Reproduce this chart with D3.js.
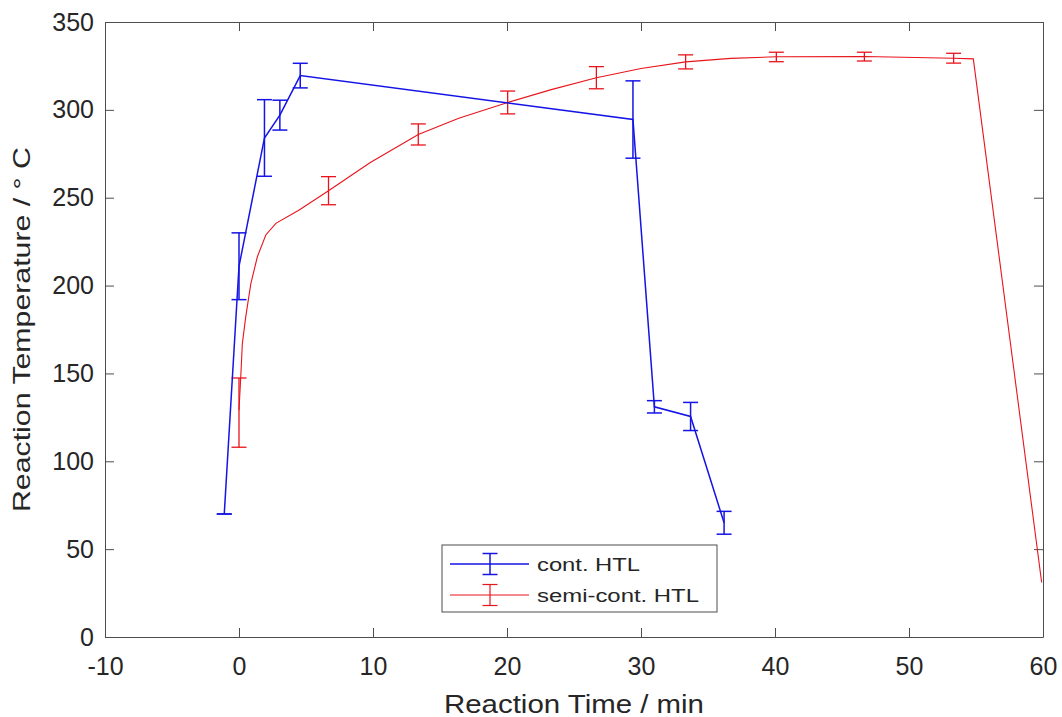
<!DOCTYPE html>
<html>
<head>
<meta charset="utf-8">
<script src="https://cdn.jsdelivr.net/npm/d3@7"></script>
<style>
  body { margin: 0; background: #fff; }
  svg text { font-family: "Liberation Sans", Arial, Helvetica, sans-serif; fill: #262626; }
</style>
</head>
<body>
<div id="chart"></div>
<script>
// cont. HTL (blue)
const contTime = [-1.1, 0, 1.9, 3.05, 4.57, 29.4, 31.0, 33.7, 36.2];
const contTemp = [70, 211, 284, 297, 319.5, 294.5, 131, 125.5, 65];
const contErr  = [0, 19, 21.8, 8.5, 7, 22, 3.5, 8, 6.5];

// semi-cont. HTL (red) curve
const semiTime = [0, 0.13, 0.25, 0.5, 0.88, 1.37, 2.0, 2.75, 4.49, 6.68, 9.8, 13.38, 16.4, 20.05,
                  23.3, 26.67, 30, 33.33, 36.7, 40.1, 46.67, 53.33, 54.8, 59.9];
const semiTemp = [129, 148, 167, 182, 201, 216.4, 228.8, 235.4, 243, 254, 270, 286, 295.2, 304.2,
                  311.5, 318.3, 323.5, 327.3, 329.3, 330.2, 330.4, 329.4, 329, 31];
// semi-cont. HTL error bars
const semiBarTime = [0, 6.68, 13.38, 20.05, 26.67, 33.33, 40.1, 46.67, 53.33];
const semiBarTemp = [127.7, 254, 286, 304.2, 318.3, 327.3, 330.1, 330.3, 329.4];
const semiBarErr  = [19.7, 8, 6, 6.5, 6.3, 4, 2.7, 2.5, 2.8];

const xTicks = [-10, 0, 10, 20, 30, 40, 50, 60];
const yTicks = [0, 50, 100, 150, 200, 250, 300, 350];

const width = 1062, height = 717;
const plotLeft = 105, plotRight = 1043, plotTop = 22, plotBottom = 637;

const svg = d3.select('#chart').append('svg').attr('width', width).attr('height', height);

const x = d3.scaleLinear().domain([-10, 60]).range([plotLeft, plotRight]);
const y = d3.scaleLinear().domain([0, 350]).range([plotBottom, plotTop]);

// axes box with inward ticks
function styleAxis(g) {
  g.attr('font-family', null).attr('font-size', null);
  g.selectAll('path.domain').attr('stroke', '#4d4d4d').attr('stroke-width', 1);
  g.selectAll('.tick line').attr('stroke', '#4d4d4d').attr('stroke-width', 1);
  g.selectAll('.tick text').style('font-size', '25px').attr('fill', '#262626');
}
const plainNum = d => String(d);
svg.append('g').attr('transform', `translate(0,${plotBottom})`)
  .call(d3.axisBottom(x).tickValues(xTicks).tickFormat(plainNum).tickSize(-9).tickSizeOuter(0).tickPadding(20))
  .call(styleAxis);
svg.append('g').attr('transform', `translate(${plotLeft},0)`)
  .call(d3.axisLeft(y).tickValues(yTicks).tickFormat(plainNum).tickSize(-9).tickSizeOuter(0).tickPadding(11))
  .call(styleAxis);
svg.append('g').attr('transform', `translate(0,${plotTop})`)
  .call(d3.axisTop(x).tickValues(xTicks).tickSize(-9).tickSizeOuter(0).tickFormat(''))
  .call(styleAxis);
svg.append('g').attr('transform', `translate(${plotRight},0)`)
  .call(d3.axisRight(y).tickValues(yTicks).tickSize(-9).tickSizeOuter(0).tickFormat(''))
  .call(styleAxis);

// axis labels
svg.append('text').attr('x', (plotLeft + plotRight) / 2).attr('y', 713)
  .attr('text-anchor', 'middle').style('font-size', '25px')
  .attr('textLength', 260).attr('lengthAdjust', 'spacingAndGlyphs')
  .text('Reaction Time / min');
svg.append('text').attr('transform', `translate(30,${(plotTop + plotBottom) / 2}) rotate(-90)`)
  .attr('text-anchor', 'middle').style('font-size', '24px')
  .attr('textLength', 365).attr('lengthAdjust', 'spacingAndGlyphs')
  .text('Reaction Temperature / \u00B0 C');

const plot = svg.append('g');

function errorBars(g, xs, ys, es, color, w) {
  const cap = 7.5;
  xs.forEach((t, i) => {
    const px = x(t), hi = y(ys[i] + es[i]), lo = y(ys[i] - es[i]);
    g.append('line').attr('x1', px).attr('x2', px).attr('y1', hi).attr('y2', lo)
      .attr('stroke', color).attr('stroke-width', w);
    [hi, lo].forEach(py => {
      g.append('line').attr('x1', px - cap).attr('x2', px + cap).attr('y1', py).attr('y2', py)
        .attr('stroke', color).attr('stroke-width', w);
    });
  });
}

const line = d3.line().x(d => x(d[0])).y(d => y(d[1]));

// red series
plot.append('path').datum(d3.zip(semiTime, semiTemp)).attr('d', line)
  .attr('fill', 'none').attr('stroke', '#e8141b').attr('stroke-width', 1.1);
errorBars(plot, semiBarTime, semiBarTemp, semiBarErr, '#e8141b', 1.3);

// blue series
plot.append('path').datum(d3.zip(contTime, contTemp)).attr('d', line)
  .attr('fill', 'none').attr('stroke', '#1414e6').attr('stroke-width', 1.5);
errorBars(plot, contTime, contTemp, contErr, '#1414e6', 1.5);

// legend
const legend = svg.append('g');
legend.append('rect').attr('x', 442).attr('y', 545).attr('width', 275).attr('height', 67)
  .attr('fill', '#fff').attr('stroke', '#4d4d4d').attr('stroke-width', 1);
const legendItems = [
  { label: 'cont. HTL', color: '#1414e6', yPos: 564, w: 1.5, len: 103 },
  { label: 'semi-cont. HTL', color: '#e8141b', yPos: 595, w: 1.2, len: 162 }
];
legendItems.forEach(it => {
  legend.append('line').attr('x1', 450).attr('x2', 529).attr('y1', it.yPos).attr('y2', it.yPos)
    .attr('stroke', it.color).attr('stroke-width', it.w);
  legend.append('line').attr('x1', 490).attr('x2', 490).attr('y1', it.yPos - 10.5).attr('y2', it.yPos + 10.5)
    .attr('stroke', it.color).attr('stroke-width', it.w);
  [it.yPos - 10.5, it.yPos + 10.5].forEach(py => {
    legend.append('line').attr('x1', 482.5).attr('x2', 497.5).attr('y1', py).attr('y2', py)
      .attr('stroke', it.color).attr('stroke-width', it.w);
  });
  legend.append('text').attr('x', 537).attr('y', it.yPos + 6.5).style('font-size', '18px')
    .attr('textLength', it.len).attr('lengthAdjust', 'spacingAndGlyphs')
    .text(it.label);
});
</script>
</body>
</html>
